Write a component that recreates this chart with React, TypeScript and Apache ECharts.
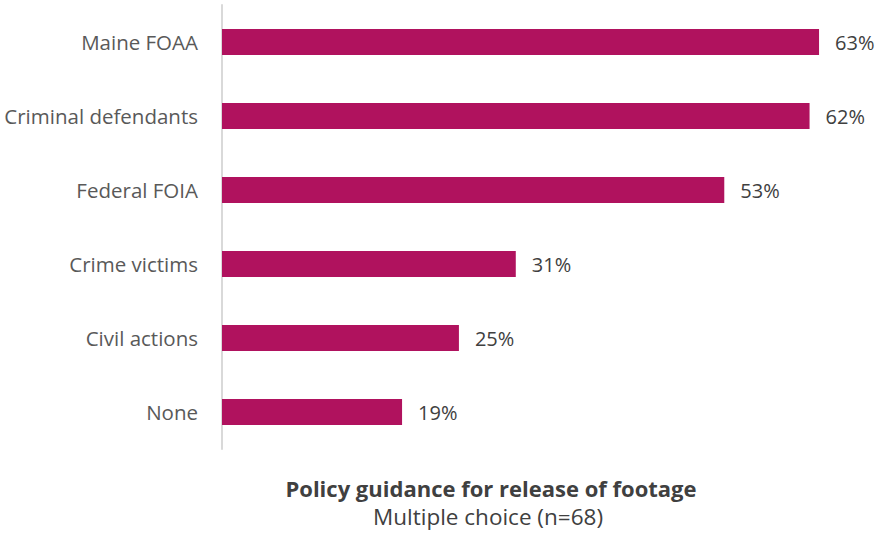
import React, { useEffect, useRef } from "react";
import * as echarts from "echarts";

const categories = ["Maine FOAA", "Criminal defendants", "Federal FOIA", "Crime victims", "Civil actions", "None"];
const values = [63, 62, 53, 31, 25, 19];
const titleText = "Policy guidance for release of footage";
const subtitleText = "Multiple choice (n=68)";

export default function App() {
  const ref = useRef<HTMLDivElement>(null);
  useEffect(() => {
    if (!ref.current) return;
    const chart = echarts.init(ref.current, null, { renderer: "svg" });
    const font = "'Open Sans', sans-serif";
    chart.setOption({
      animation: false,
      backgroundColor: "#ffffff",
      grid: { left: 222, top: 5, width: 616, height: 444, containLabel: false },
      xAxis: {
        type: "value",
        min: 0,
        max: 65,
        show: false,
      },
      yAxis: {
        type: "category",
        inverse: true,
        data: categories,
        axisLine: { show: true, lineStyle: { color: "#d9d9d9", width: 2 } },
        axisTick: { show: false },
        axisLabel: { color: "#595959", fontSize: 20.5, fontFamily: font, margin: 24 },
      },
      series: [
        {
          type: "bar",
          data: values,
          barWidth: 26,
          itemStyle: { color: "#b0125e" },
          label: {
            show: true,
            position: "right",
            distance: 16,
            formatter: "{c}%",
            color: "#404040",
            fontSize: 20,
            fontFamily: font,
          },
        },
      ],
      title: [
        {
          text: titleText,
          left: 491,
          top: 475,
          padding: 0,
          textAlign: "center",
          textStyle: { fontSize: 22, lineHeight: 26, fontWeight: "bold", color: "#404040", fontFamily: font },
        },
        {
          text: subtitleText,
          left: 488,
          top: 503,
          padding: 0,
          textAlign: "center",
          textStyle: { fontSize: 22.5, lineHeight: 26, fontWeight: "normal", color: "#404040", fontFamily: font },
        },
      ],
    });
    return () => chart.dispose();
  }, []);
  return <div ref={ref} style={{ position: "fixed", left: 0, top: 0, width: 878, height: 534 }} />;
}
